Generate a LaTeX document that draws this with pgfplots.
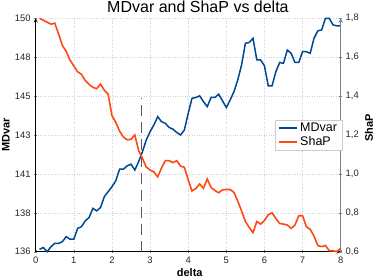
\documentclass[border=0pt]{standalone}
\usepackage{fontspec}
\setmainfont{Liberation Sans}
\usepackage{pgfplots}
\pgfplotsset{compat=1.18}
\definecolor{mdblue}{RGB}{0,72,145}
\definecolor{shapor}{RGB}{255,72,20}

\begin{document}
\begin{tikzpicture}
\pgfplotsset{
  common/.style={
    scale only axis, width=305pt, height=233.4pt,
    at={(0,0)}, anchor=south west,
    xmin=0, xmax=8, clip=false,
    /pgf/number format/assume math mode=true,
    tick label style={font=\fontsize{9.4}{11}\selectfont, text=black!85},
    tick align=outside, major tick length=3pt,
    label style={font=\fontsize{11}{13}\selectfont\bfseries},
    axis line style={-},
  }
}
\begin{axis}[common,
  axis x line=bottom, axis y line=left,
  x axis line style={black, line width=0.8pt},
  y axis line style={black, line width=0.8pt},
  ymin=136, ymax=150,
  ytick={136,138.33333,140.66667,143,145.33333,147.66667,150},
  yticklabels={136,138,141,143,145,148,150},
  xtick={0,1,2,3,4,5,6,7,8},
  grid=major, grid style={black!18, dotted, line width=0.5pt},
  xlabel={delta}, ylabel={MDvar},
  xlabel style={at={(axis description cs:0.505,0)}, anchor=base, yshift=-24.3pt},
  ylabel style={at={(axis description cs:-0.0974,0.5)}, anchor=center},
  title={MDvar and ShaP vs delta},
  every axis title/.style={at={(axis description cs:0.532,1)}, anchor=base, yshift=5.6pt, font=\fontsize{16}{19}\selectfont},
]
\addplot[black!65, line width=1pt, dash pattern=on 11pt off 6pt] coordinates {(2.78,136) (2.78,145.2)};
\addplot[mdblue, line width=1.5pt] coordinates {
(0.1,136.15) (0.2,136.25) (0.3,136.0) (0.4,136.3) (0.5,136.5) (0.6,136.5) (0.7,136.6) (0.8,136.9) (0.9,136.75) (1.0,136.75)
(1.1,137.4) (1.2,137.5) (1.3,137.85) (1.4,138.05) (1.5,138.6) (1.6,138.45) (1.7,138.65) (1.8,139.3) (1.9,139.6) (2.0,139.9)
(2.1,140.25) (2.2,140.95) (2.3,140.95) (2.4,141.15) (2.5,141.25) (2.6,140.9) (2.7,141.4) (2.8,142.0) (2.9,142.7) (3.0,143.2)
(3.1,143.6) (3.2,144.1) (3.3,143.8) (3.4,143.7) (3.5,143.45) (3.6,143.35) (3.7,143.15) (3.8,143.0) (3.9,143.3) (4.0,144.3)
(4.1,145.2) (4.2,145.25) (4.3,145.35) (4.4,145.0) (4.5,144.7) (4.6,145.25) (4.7,145.25) (4.8,145.45) (4.9,145.05) (5.0,144.65)
(5.1,145.1) (5.2,145.6) (5.3,146.3) (5.4,147.2) (5.5,148.5) (5.6,148.55) (5.7,148.8) (5.8,147.5) (5.9,147.5) (6.0,147.15)
(6.1,145.95) (6.2,145.95) (6.3,146.8) (6.4,147.35) (6.5,147.3) (6.6,148.1) (6.7,147.9) (6.8,147.35) (6.9,147.35) (7.0,148.0)
(7.1,148.0) (7.2,147.9) (7.3,148.8) (7.4,149.25) (7.5,149.3) (7.6,150.0) (7.7,150.0) (7.8,149.6) (7.9,149.55) (8.0,149.55)
};
\end{axis}
\begin{axis}[common,
  axis x line=none, axis y line=right,
  y axis line style={black!50, line width=1pt},
  ymin=0.6, ymax=1.8,
  ytick={0.6,0.8,1.0,1.2,1.4,1.6,1.8},
  yticklabels={{0,6},{0,8},{1,0},{1,2},{1,4},{1,6},{1,8}},
  ylabel={ShaP},
  every axis y label/.style={at={(axis description cs:1.0928,0.53)}, anchor=center, rotate=90, font=\fontsize{11}{13}\selectfont\bfseries},
  legend style={at={(axis description cs:1.005,0.5)}, anchor=east, draw=black!20, fill=white,
    font=\fontsize{12.5}{14}\selectfont, inner xsep=3pt, inner ysep=1pt, row sep=-0.5pt},
  legend cell align=left,
  legend image code/.code={\draw[#1] (0pt,0pt) -- (18pt,0pt);},
]
\addlegendimage{mdblue, line width=1.7pt}
\addlegendentry{MDvar}
\addlegendimage{shapor, line width=1.7pt}
\addlegendentry{ShaP}
\addplot[shapor, line width=1.6pt, forget plot] coordinates {
(0.1,1.80) (0.2,1.79) (0.3,1.78) (0.4,1.77) (0.5,1.775) (0.6,1.72) (0.7,1.66) (0.8,1.63) (0.9,1.585) (1.0,1.555)
(1.1,1.525) (1.2,1.512) (1.3,1.48) (1.4,1.46) (1.5,1.445) (1.6,1.438) (1.7,1.462) (1.8,1.43) (1.9,1.41) (2.0,1.30)
(2.1,1.265) (2.2,1.22) (2.3,1.19) (2.4,1.175) (2.5,1.178) (2.6,1.20) (2.7,1.12) (2.8,1.08) (2.9,1.035) (3.0,1.02)
(3.1,1.01) (3.2,0.985) (3.3,1.03) (3.4,1.068) (3.5,1.068) (3.6,1.058) (3.7,1.068) (3.8,1.04) (3.9,1.034) (4.0,0.97)
(4.1,0.912) (4.2,0.925) (4.3,0.948) (4.4,0.926) (4.5,0.974) (4.6,0.93) (4.7,0.915) (4.8,0.903) (4.9,0.918) (5.0,0.92)
(5.1,0.92) (5.2,0.905) (5.3,0.86) (5.4,0.81) (5.5,0.755) (5.6,0.725) (5.7,0.698) (5.8,0.755) (5.9,0.742) (6.0,0.76)
(6.1,0.79) (6.2,0.80) (6.3,0.77) (6.4,0.745) (6.5,0.742) (6.6,0.737) (6.7,0.72) (6.8,0.737) (6.9,0.785) (7.0,0.785)
(7.1,0.728) (7.2,0.715) (7.3,0.68) (7.4,0.632) (7.5,0.626) (7.6,0.632) (7.7,0.605) (7.8,0.605) (7.9,0.60) (8.0,0.618)
};
\end{axis}
\pgfresetboundingbox
\useasboundingbox (-35.7pt,-25.3pt) rectangle (338.3pt,251.7pt);
\end{tikzpicture}
\end{document}
